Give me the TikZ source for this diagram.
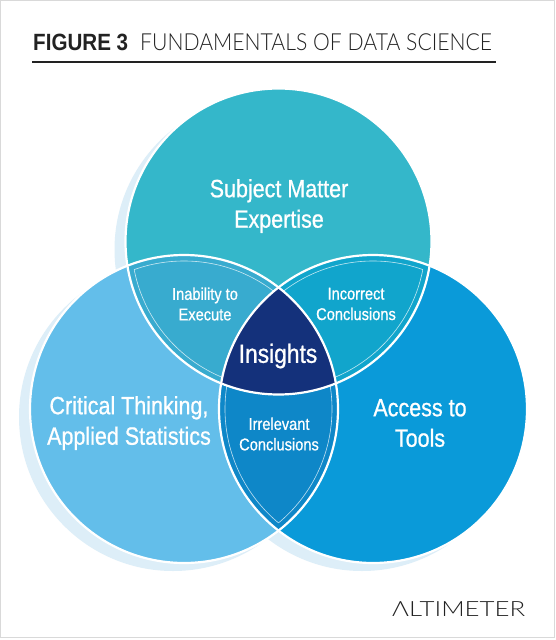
\documentclass[tikz,border=0pt]{standalone}
\usepackage{fontspec}
\setmainfont{Liberation Sans}[FakeStretch=0.86]
\newfontfamily\labelfont{Liberation Sans}[FakeStretch=0.86,RawFeature={embolden=0.8}]
\newfontfamily\lightfont{Lato Light}
\definecolor{ctop}{HTML}{34B7CA}
\definecolor{cleft}{HTML}{63BEEA}
\definecolor{cright}{HTML}{0A9AD9}
\definecolor{ctl}{HTML}{38ABCF}
\definecolor{ctr}{HTML}{11A5CC}
\definecolor{clr}{HTML}{0E87C8}
\definecolor{cins}{HTML}{14317B}
\definecolor{cshadow}{HTML}{DDEEF8}
\definecolor{ctitle}{HTML}{222222}
\begin{document}
\begin{tikzpicture}[x=1pt,y=-1pt,
  big/.style={text=white,align=center,font=\labelfont\fontsize{25}{30.5}\selectfont,inner sep=0pt},
  small/.style={text=white,align=center,font=\labelfont\fontsize{17}{20.5}\selectfont,inner sep=0pt},
  insetline/.style={white,line width=0.6pt,opacity=0.75},
  outline/.style={white,line width=2.2pt}]
\path[use as bounding box] (0,0) rectangle (556,640);
\fill[white] (0,0) rectangle (556,640);
\draw[gray!30,line width=1pt] (0.5,0.5) rectangle (554.5,637.5);

% title
\node[anchor=base west,inner sep=0pt,text=ctitle] (fig) at (33,50)
  {\resizebox{95pt}{\height}{\fontsize{23.5}{26}\selectfont\bfseries FIGURE 3}};
\node[anchor=base west,inner sep=0pt,text=ctitle] (title) at (140,50)
  {\resizebox{352pt}{\height}{\lightfont\fontsize{23.5}{26}\selectfont FUNDAMENTALS OF DATA SCIENCE}};
\coordinate (rulea) at (32,62);
\coordinate (ruleb) at (496,62);
\draw[ctitle,line width=1.5pt] (rulea) -- (ruleb);

% circle centres
\coordinate (T) at (278.5,241.5);
\coordinate (L) at (184,409);
\coordinate (R) at (373,409);
\coordinate (TS) at (267.5,249.5);
\coordinate (LS) at (173,417);
\coordinate (RS) at (362,417);

% shadows
\fill[cshadow] (TS) circle[radius=153pt];
\fill[cshadow] (LS) circle[radius=154pt];
\fill[cshadow] (RS) circle[radius=154pt];

% circles
\fill[ctop] (T) circle[radius=153pt];
\fill[cleft] (L) circle[radius=154pt];
\fill[cright] (R) circle[radius=154pt];

% lenses
\begin{scope}\clip (T) circle[radius=153pt]; \fill[ctl] (L) circle[radius=154pt];\end{scope}
\begin{scope}\clip (T) circle[radius=153pt]; \fill[ctr] (R) circle[radius=154pt];\end{scope}
\begin{scope}\clip (L) circle[radius=154pt]; \fill[clr] (R) circle[radius=154pt];\end{scope}

% inset lines
\begin{scope}\clip (T) circle[radius=147pt]; \draw[insetline] (L) circle[radius=148pt];\end{scope}
\begin{scope}\clip (L) circle[radius=148pt]; \draw[insetline] (T) circle[radius=147pt];\end{scope}
\begin{scope}\clip (T) circle[radius=147pt]; \draw[insetline] (R) circle[radius=148pt];\end{scope}
\begin{scope}\clip (R) circle[radius=148pt]; \draw[insetline] (T) circle[radius=147pt];\end{scope}
\begin{scope}\clip (L) circle[radius=148pt]; \draw[insetline] (R) circle[radius=148pt];\end{scope}
\begin{scope}\clip (R) circle[radius=148pt]; \draw[insetline] (L) circle[radius=148pt];\end{scope}

% insights
\begin{scope}\clip (T) circle[radius=153pt]; \clip (L) circle[radius=154pt]; \fill[cins] (R) circle[radius=154pt];\end{scope}

% outlines
\draw[outline] (T) circle[radius=153pt];
\draw[outline] (L) circle[radius=154pt];
\draw[outline] (R) circle[radius=154pt];

% labels
\node[big] (sme) at (279,206) {Subject Matter\\Expertise};
\node[big] (ct) at (129,423) {Critical Thinking,\\Applied Statistics};
\node[big] (at) at (420,423) {Access to\\Tools};
\node[text=white,inner sep=0pt,font=\labelfont\fontsize{26.5}{30}\selectfont] (ins) at (278,356) {Insights};
\node[small] (ie) at (205,304) {Inability to\\Execute};
\node[small] (ic) at (356,304) {Incorrect\\Conclusions};
\node[small] (irc) at (279,434) {Irrelevant\\Conclusions};

% logo
\node[anchor=base west,inner sep=0pt,text=ctitle] (logo) at (392,616)
  {\resizebox{133pt}{\height}{\lightfont\fontsize{21}{24}\selectfont ΛLTIMETER}};
\end{tikzpicture}
\end{document}
